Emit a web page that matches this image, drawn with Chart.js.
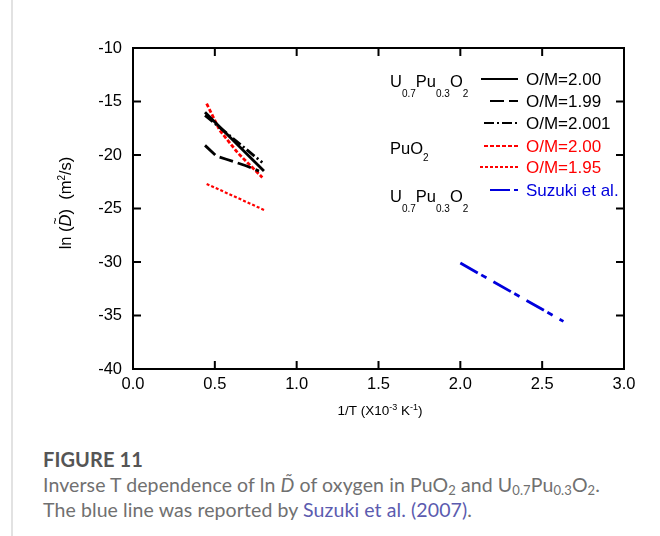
<!DOCTYPE html>
<html>
<head>
<meta charset="utf-8">
<title>Figure 11</title>
<script src="https://cdn.jsdelivr.net/npm/chart.js"></script>
<style>
  body { margin: 0; background: #fff; width: 660px; height: 536px; overflow: hidden; position: relative; }
  #frame { position: absolute; left: 11px; top: 0; width: 2px; height: 536px; background: #e2e2e2; }
  #chart { position: absolute; left: 0; top: 0; }
  #caption { position: absolute; left: 43px; top: 447px; font-family: Lato, sans-serif; color: #707070; font-size: 19.5px; line-height: 25px; letter-spacing: 0.1px; }
  #caption b { color: #555; font-size: 20px; display: block; }
  #caption a { color: #5b5baf; text-decoration: none; }
  sub { font-size: 13px; vertical-align: -3px; line-height: 0; }
</style>
</head>
<body>
<div id="frame"></div>
<canvas id="chart" width="660" height="440"></canvas>
<div id="caption">
  <b>FIGURE 11</b>
  Inverse T dependence of ln <i>D̃</i> of oxygen in PuO<sub>2</sub> and U<sub>0.7</sub>Pu<sub>0.3</sub>O<sub>2</sub>.<br>
  The blue line was reported by <a>Suzuki et al. (2007)</a>.
</div>
<script>
// ---- data ----
const xTicks = [0, 0.5, 1.0, 1.5, 2.0, 2.5, 3.0];
const yTicks = [-40, -35, -30, -25, -20, -15, -10];

// U0.7Pu0.3O2, O/M=2.00
const upoX200 = [0.44, 0.80];
const upoY200 = [-16.0, -21.5];
// U0.7Pu0.3O2, O/M=1.99
const upoX199 = [0.44, 0.51, 0.57, 0.69, 0.77];
const upoY199 = [-19.1, -20.1, -20.4, -21.0, -21.5];
// U0.7Pu0.3O2, O/M=2.001
const upoX2001 = [0.44, 0.79];
const upoY2001 = [-16.3, -20.7];
// PuO2, O/M=2.00
const puX200 = [0.45, 0.53, 0.64, 0.79];
const puY200 = [-15.2, -17.7, -19.8, -22.1];
// PuO2, O/M=1.95
const puX195 = [0.45, 0.81];
const puY195 = [-22.7, -25.2];
// Suzuki et al.
const suzX = [2.00, 2.63];
const suzY = [-30.1, -35.55];

const seriesLabels = ['O/M=2.00', 'O/M=1.99', 'O/M=2.001', 'O/M=2.00', 'O/M=1.95', 'Suzuki et al.'];

function pts(xs, ys) {
    return xs.map((x, i) => ({ x: x, y: ys[i] }));
}

const FONT = '"Liberation Sans", Arial, sans-serif';

const datasets = [
    { data: pts(upoX200, upoY200), borderColor: '#000', borderWidth: 2.8, borderDash: [], legendStart: 481, textColor: '#000' },
    { data: pts(upoX199, upoY199), borderColor: '#000', borderWidth: 2.8, borderDash: [14, 5], legendStart: 490, textColor: '#000' },
    { data: pts(upoX2001, upoY2001), borderColor: '#000', borderWidth: 2.8, borderDash: [10, 3, 2, 3], legendStart: 484, textColor: '#000' },
    { data: pts(puX200, puY200), borderColor: '#ff0000', borderWidth: 2.8, borderDash: [4, 2], legendStart: 484, textColor: '#ff0000' },
    { data: pts(puX195, puY195), borderColor: '#ff0000', borderWidth: 2.2, borderDash: [3, 2], legendStart: 480, textColor: '#ff0000' },
    { data: pts(suzX, suzY), borderColor: '#0000dd', borderWidth: 2.8, borderDash: [20, 4, 6, 8], legendStart: 490, textColor: '#0000dd' }
];
datasets.forEach((d, i) => {
    d.label = seriesLabels[i];
    d.showLine = true;
    d.pointRadius = 0;
    d.fill = false;
    d.tension = 0;
});

// draw pieces of text with subscripts/superscripts
function drawRich(ctx, x, y, parts) {
    parts.forEach(p => {
        ctx.font = (p.italic ? 'italic ' : '') + p.size + 'px ' + FONT;
        ctx.fillText(p.t, x, y + (p.dy || 0));
        x += ctx.measureText(p.t).width;
    });
    return x;
}

const framePlugin = {
    id: 'framePlugin',
    afterDatasetsDraw(chart) {
        const ctx = chart.ctx;
        const a = chart.chartArea;
        const xs = chart.scales.x, ys = chart.scales.y;
        ctx.save();
        ctx.strokeStyle = '#000';
        ctx.lineWidth = 2;
        ctx.setLineDash([]);
        ctx.strokeRect(a.left, a.top, a.right - a.left, a.bottom - a.top);
        const tl = 8;
        ctx.beginPath();
        xTicks.forEach(v => {
            const px = xs.getPixelForValue(v);
            ctx.moveTo(px, a.bottom); ctx.lineTo(px, a.bottom - tl);
            ctx.moveTo(px, a.top); ctx.lineTo(px, a.top + tl);
        });
        yTicks.forEach(v => {
            const py = ys.getPixelForValue(v);
            ctx.moveTo(a.left, py); ctx.lineTo(a.left + tl, py);
            ctx.moveTo(a.right, py); ctx.lineTo(a.right - tl, py);
        });
        ctx.stroke();

        // legend
        const rowY = [79, 101, 123, 146, 167, 190];
        ctx.textBaseline = 'middle';
        chart.data.datasets.forEach((d, i) => {
            ctx.strokeStyle = d.borderColor;
            ctx.lineWidth = 2;
            ctx.setLineDash(d.borderDash);
            ctx.beginPath();
            ctx.moveTo(d.legendStart, rowY[i]);
            ctx.lineTo(518, rowY[i]);
            ctx.stroke();
            ctx.fillStyle = d.textColor;
            ctx.font = '17px ' + FONT;
            ctx.fillText(d.label, 526, rowY[i] + 1);
        });
        ctx.setLineDash([]);

        // group labels
        ctx.fillStyle = '#000';
        ctx.textBaseline = 'alphabetic';
        const upo = [
            { t: 'U', size: 16.5 }, { t: '0.7', size: 10, dy: 10 },
            { t: 'Pu', size: 16.5 }, { t: '0.3', size: 10, dy: 10 },
            { t: 'O', size: 16.5 }, { t: '2', size: 10, dy: 10 }
        ];
        drawRich(ctx, 390, 87, upo);
        drawRich(ctx, 390, 154, [{ t: 'PuO', size: 16.5 }, { t: '2', size: 10, dy: 7 }]);
        drawRich(ctx, 390, 202, upo);

        // x title
        const xParts = [
            { t: '1/T (X10', size: 13.5 }, { t: '-3', size: 9, dy: -5 },
            { t: ' K', size: 13.5 }, { t: '-1', size: 9, dy: -5 }, { t: ')', size: 13.5 }
        ];
        let w = 0;
        xParts.forEach(p => { ctx.font = p.size + 'px ' + FONT; w += ctx.measureText(p.t).width; });
        drawRich(ctx, 380 - w / 2, 415, xParts);

        // y title, rotated
        ctx.save();
        ctx.translate(71, 203);
        ctx.rotate(-Math.PI / 2);
        const yParts = [
            { t: 'ln (', size: 16.5 }, { t: 'D', size: 16.5, italic: true },
            { t: ')  (m', size: 16.5 }, { t: '2', size: 10, dy: -6 }, { t: '/s)', size: 16.5 }
        ];
        w = 0;
        yParts.forEach(p => { ctx.font = (p.italic ? 'italic ' : '') + p.size + 'px ' + FONT; w += ctx.measureText(p.t).width; });
        const x0 = -w / 2;
        ctx.font = '16.5px ' + FONT;
        const dx = x0 + ctx.measureText('ln (').width;
        drawRich(ctx, x0, 0, yParts);
        // tilde over D
        ctx.font = '12px ' + FONT;
        ctx.fillText('~', dx + 2, -12);
        ctx.restore();

        ctx.restore();
    }
};

const tickFont = { family: FONT, size: 16.5 };

new Chart(document.getElementById('chart').getContext('2d'), {
    type: 'scatter',
    data: { datasets: datasets },
    options: {
        responsive: false,
        animation: false,
        layout: { padding: { left: 0, top: 48, right: 36, bottom: 0 } },
        plugins: { legend: { display: false }, tooltip: { enabled: false } },
        scales: {
            x: {
                type: 'linear', min: 0, max: 3,
                afterBuildTicks(scale) { scale.ticks = xTicks.map(v => ({ value: v })); },
                afterFit(scale) { scale.height = 440 - 369; },
                ticks: { font: tickFont, color: '#000', padding: 6, maxRotation: 0, callback: v => v.toFixed(1) },
                grid: { display: false, drawTicks: false },
                border: { display: false }
            },
            y: {
                type: 'linear', min: -40, max: -10,
                afterBuildTicks(scale) { scale.ticks = yTicks.map(v => ({ value: v })); },
                afterFit(scale) { scale.width = 133; },
                ticks: { font: tickFont, color: '#000', padding: 11, callback: v => String(v) },
                grid: { display: false, drawTicks: false },
                border: { display: false }
            }
        }
    },
    plugins: [framePlugin]
});
</script>
</body>
</html>
